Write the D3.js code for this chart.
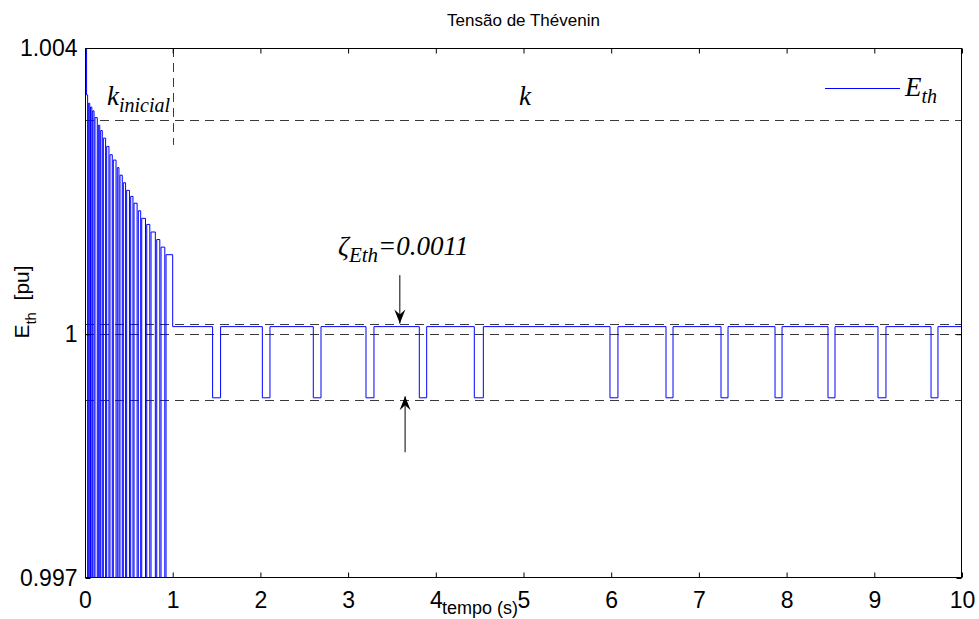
<!DOCTYPE html>
<html><head><meta charset="utf-8">
<script src="https://cdn.jsdelivr.net/npm/d3@7"></script>
<style>body{margin:0;background:#fff}svg{display:block}</style>
</head><body>
<svg id="c" width="979" height="619"></svg>
<script>
// ---- data ----
const xTicks = [0,1,2,3,4,5,6,7,8,9,10];
const yMin = 0.99678, yMax = 1.00378;
const yTickValues = [yMin, 1, yMax];
const yTickLabels = ["0.997", "1", "1.004"];

// transient (0–1 s): pulses rising from below the axis
const pulseStart = [0, 0.018, 0.038, 0.063, 0.088, 0.114, 0.152, 0.179, 0.209, 0.247, 0.285, 0.323, 0.368, 0.399, 0.437, 0.475, 0.521, 0.559, 0.608, 0.647, 0.704, 0.753, 0.818, 0.867, 0.924];
const pulseEnd   = [0.018, 0.030, 0.054, 0.078, 0.103, 0.140, 0.168, 0.197, 0.235, 0.273, 0.311, 0.354, 0.387, 0.425, 0.463, 0.507, 0.547, 0.594, 0.635, 0.690, 0.739, 0.802, 0.853, 0.910, 1.0];
const pulseLevel = [1.0040, 1.00316, 1.00305, 1.00300, 1.00295, 1.00286, 1.00276, 1.00269, 1.00259, 1.00248, 1.00237, 1.00230, 1.00220, 1.00210, 1.00200, 1.00190, 1.00182, 1.00173, 1.00163, 1.00153, 1.00145, 1.00135, 1.00125, 1.00115, 1.00105];
const pulseLow = 0.9955;

// steady state (1–10 s)
const steadyLevel = 1.00010;
const dipLevel = 0.99916;
const dipStart = [1.455, 2.022, 2.603, 3.204, 3.812, 4.439, 5.986, 6.625, 7.252, 7.868, 8.472, 9.042, 9.647];
const dipEnd   = [1.546, 2.109, 2.691, 3.295, 3.896, 4.542, 6.077, 6.705, 7.332, 7.948, 8.552, 9.133, 9.726];

// reference (dashed) lines
const kLevel = 1.00283;
const bandUpper = 1.000135;
const bandCenter = 1.0;
const bandLower = 0.99913;
const kVertEnd = 1.00250;

// ---- layout ----
const svg = d3.select("#c");
const L = 85, R = 962, T = 48, B = 578;
const x = d3.scaleLinear().domain([0, 10]).range([L, R]);
const y = d3.scaleLinear().domain([yMin, yMax]).range([B, T]);

svg.append("defs").append("clipPath").attr("id","clip")
  .append("rect").attr("x",L).attr("y",T).attr("width",R-L).attr("height",B-T);

// build series
const pts = [];
pulseStart.forEach((s,i)=>{
  pts.push([s, pulseLevel[i]]);
  if (i < pulseStart.length-1 && pulseEnd[i] < pulseStart[i+1]) pts.push([pulseEnd[i], pulseLow]);
});
pts.push([1.0, steadyLevel]);
dipStart.forEach((s,i)=>{ pts.push([s, dipLevel]); pts.push([dipEnd[i], steadyLevel]); });
pts.push([10, steadyLevel]);

// dashed lines
const dash = svg.append("g").attr("clip-path","url(#clip)")
  .attr("stroke","#3a3a3a").attr("stroke-width",1).attr("stroke-dasharray","9,6").attr("fill","none");
[kLevel, bandUpper, bandCenter, bandLower].forEach(v=>{
  dash.append("line").attr("x1",x(0)).attr("x2",x(10)).attr("y1",Math.round(y(v))+0.5).attr("y2",Math.round(y(v))+0.5);
});
dash.append("line").attr("x1",Math.round(x(1))+0.5).attr("x2",Math.round(x(1))+0.5).attr("y1",y(yMax)).attr("y2",y(kVertEnd));

// series line
const line = d3.line().x(d=>x(d[0])).y(d=>y(d[1])).curve(d3.curveStepAfter);
svg.append("path").datum(pts).attr("clip-path","url(#clip)")
  .attr("d", line).attr("fill","none").attr("stroke","#0000ff").attr("stroke-width",1);

// axes box
svg.append("rect").attr("x",L+0.5).attr("y",T+0.5).attr("width",R-L-1).attr("height",B-T-1)
  .attr("fill","none").attr("stroke","#000").attr("stroke-width",1);

const sans = "Liberation Sans, Arial, sans-serif";
const xAx = d3.axisBottom(x).tickValues(xTicks).tickSizeInner(-5).tickSizeOuter(0).tickPadding(14);
const gx = svg.append("g").attr("transform",`translate(0,${B-0.5})`).call(xAx);
gx.select(".domain").remove();
gx.selectAll("text").attr("font-family",sans).attr("font-size",23).attr("fill","#000");
const gxT = svg.append("g").attr("transform",`translate(0,${T+0.5})`).call(d3.axisTop(x).tickValues(xTicks).tickSizeInner(-5).tickSizeOuter(0).tickFormat(""));
gxT.select(".domain").remove();

const yAx = d3.axisLeft(y).tickValues(yTickValues).tickFormat((d,i)=>yTickLabels[i]).tickSizeInner(-5).tickSizeOuter(0).tickPadding(8);
const gy = svg.append("g").attr("transform",`translate(${L+0.5},0)`).call(yAx);
gy.select(".domain").remove();
gy.selectAll("text").attr("font-family",sans).attr("font-size",23).attr("fill","#000");
const gyR = svg.append("g").attr("transform",`translate(${R-0.5},0)`).call(d3.axisRight(y).tickValues(yTickValues).tickSizeInner(-5).tickSizeOuter(0).tickFormat(""));
gyR.select(".domain").remove();

// title & axis labels
svg.append("text").attr("x",(L+R)/2).attr("y",26).attr("text-anchor","middle")
  .attr("font-family",sans).attr("font-size",17).text("Tensão de Thévenin");
svg.append("text").attr("x",480).attr("y",614).attr("text-anchor","middle")
  .attr("font-family",sans).attr("font-size",18).text("tempo (s)");
const yl = svg.append("text").attr("transform",`translate(29,302) rotate(-90)`).attr("text-anchor","middle")
  .attr("font-family",sans).attr("font-size",21);
yl.append("tspan").text("E");
yl.append("tspan").attr("font-size",15).attr("dy",7).text("th");
yl.append("tspan").attr("dy",-7).attr("xml:space","preserve").text("  [pu]");

// annotations (Times italic)
const serif = "Liberation Serif, Times New Roman, serif";
function italicText(px, py, main, sub, rest, size, subSize){
  const t = svg.append("text").attr("x",px).attr("y",py).attr("font-family",serif)
    .attr("font-style","italic").attr("font-size",size);
  t.append("tspan").text(main);
  if (sub) t.append("tspan").attr("font-size",subSize).attr("dy",7).text(sub);
  if (rest) t.append("tspan").attr("dy",-7).text(rest);
  return t;
}
italicText(x(0.25), y(1.00303), "k", "inicial", null, 27, 20);
italicText(x(4.95), y(1.00303), "k", null, null, 27, 20);
italicText(x(2.885), y(1.00105), "ζ", "Eth", "=0.0011", 27, 21);

// arrows
function arrow(x1,y1,x2,y2){
  svg.append("line").attr("x1",x1).attr("y1",y1).attr("x2",x2).attr("y2",y2).attr("stroke","#000").attr("stroke-width",1);
  const ang = Math.atan2(y2-y1, x2-x1);
  const len = 14, w = 5.5, notch = 9;
  const p = (d, o) => [x2 - d*Math.cos(ang) - o*Math.sin(ang), y2 - d*Math.sin(ang) + o*Math.cos(ang)];
  const ap = [[x2,y2], p(len, w), p(notch, 0), p(len, -w)];
  svg.append("path").attr("d","M"+ap.map(d=>d.join(",")).join("L")+"Z").attr("fill","#000");
}
arrow(x(3.59), y(1.00078), x(3.59), y(1.00014));
arrow(x(3.65), y(0.99844), x(3.65), y(0.99918));

// legend
svg.append("line").attr("x1",825).attr("x2",900).attr("y1",88.5).attr("y2",88.5).attr("stroke","#0000ff").attr("stroke-width",1);
italicText(905, 96, "E", "th", null, 27, 20);
</script>
</body></html>
